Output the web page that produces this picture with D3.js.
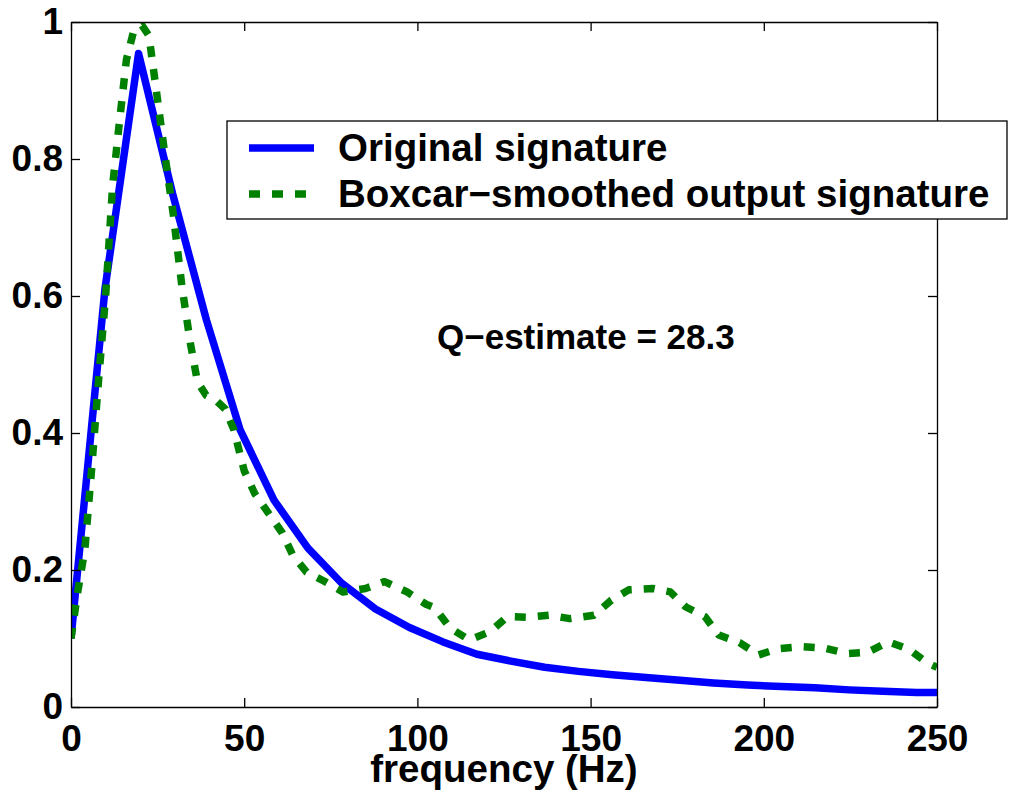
<!DOCTYPE html>
<html lang="en">
<head>
    <meta charset="UTF-8">
    <title>Q-estimate signature</title>
    <script src="https://d3js.org/d3.v7.min.js"></script>
    <style>
        body {
            margin: 0;
            padding: 0;
            background: #fff;
        }
        svg {
            font-family: "Liberation Sans", Arial, Helvetica, sans-serif;
            font-weight: bold;
        }
        .axis path, .axis line {
            stroke: #000;
            stroke-width: 1.3;
        }
        .axis text {
            font-size: 37px;
            font-weight: bold;
            fill: #000;
        }
    </style>
</head>
<body>
    <svg width="1010" height="798"></svg>

    <script>
        // original signature (coarse spectrum samples)
        const freqOrig = [0, 9.8, 19.5, 29.3, 39.1, 48.8, 58.6, 68.4, 78.1, 87.9, 97.7, 107.4,
            117.2, 127.0, 136.7, 146.5, 156.3, 166.0, 175.8, 185.5, 195.3, 205.1, 214.8,
            224.6, 234.4, 244.1, 253.9];
        const valOrig = [0.10, 0.61, 0.954, 0.75, 0.565, 0.405, 0.302, 0.232, 0.181, 0.143, 0.116, 0.095,
            0.077, 0.067, 0.058, 0.052, 0.047, 0.043, 0.039, 0.035, 0.032, 0.030, 0.028,
            0.025, 0.023, 0.021, 0.021];

        // boxcar-smoothed output signature
        const freqSmooth = [0, 2, 4, 6, 8, 10, 12, 14, 16, 18, 20.5, 22.5, 24.5, 27, 29.5, 32,
            34.5, 36.5, 39, 42, 44.5, 47, 50, 53, 57, 61, 64, 68, 73, 78.5, 85, 90.5, 97,
            102.5, 105, 109.5, 115, 121, 126, 132, 138, 144, 151, 156, 161, 168, 173,
            177.5, 183, 187, 193, 198.5, 204, 211, 217.5, 224, 230, 236, 242, 247, 250];
        const valSmooth = [0.10, 0.17, 0.23, 0.35, 0.48, 0.60, 0.76, 0.855, 0.945, 0.985, 0.995, 0.98,
            0.905, 0.81, 0.72, 0.615, 0.53, 0.475, 0.455, 0.447, 0.435, 0.405, 0.345, 0.312,
            0.283, 0.254, 0.222, 0.197, 0.184, 0.168, 0.173, 0.183, 0.168, 0.15, 0.145,
            0.115, 0.098, 0.11, 0.132, 0.131, 0.134, 0.129, 0.134, 0.156, 0.171, 0.173,
            0.168, 0.146, 0.132, 0.105, 0.094, 0.076, 0.085, 0.088, 0.086, 0.078, 0.080,
            0.095, 0.084, 0.065, 0.058];

        const xTicks = [0, 50, 100, 150, 200, 250];
        const yTicks = [0, 0.2, 0.4, 0.6, 0.8, 1];
        const yTickLabels = ["0", "0.2", "0.4", "0.6", "0.8", "1"];
        const seriesNames = ["Original signature", "Boxcar\u2212smoothed output signature"];
        const annotation = "Q\u2212estimate = 28.3";

        const plot = { left: 71, right: 937, top: 22, bottom: 707 };

        const svg = d3.select("svg");
        svg.append("rect").attr("width", 1010).attr("height", 798).attr("fill", "#fff");

        const x = d3.scaleLinear().domain([0, 250]).range([plot.left, plot.right]);
        const y = d3.scaleLinear().domain([0, 1]).range([plot.bottom, plot.top]);

        svg.append("defs").append("clipPath").attr("id", "clip")
            .append("rect")
            .attr("x", plot.left).attr("y", plot.top)
            .attr("width", plot.right - plot.left)
            .attr("height", plot.bottom - plot.top);

        const line = d3.line()
            .x(d => x(d[0]))
            .y(d => y(d[1]));

        const lines = svg.append("g").attr("clip-path", "url(#clip)");

        lines.append("path")
            .datum(d3.zip(freqOrig, valOrig))
            .attr("d", line)
            .attr("fill", "none")
            .attr("stroke", "#0000ff")
            .attr("stroke-width", 7.5)
            .attr("stroke-linejoin", "round");

        lines.append("path")
            .datum(d3.zip(freqSmooth, valSmooth))
            .attr("d", line)
            .attr("fill", "none")
            .attr("stroke", "#008000")
            .attr("stroke-width", 7.5)
            .attr("stroke-dasharray", "11,12")
            .attr("stroke-linejoin", "round");

        // axes, ticks pointing inwards on all four sides
        svg.append("g")
            .attr("class", "axis")
            .attr("transform", `translate(0,${plot.bottom})`)
            .call(d3.axisBottom(x).tickValues(xTicks).tickSizeInner(-9).tickSizeOuter(0).tickPadding(18));

        svg.append("g")
            .attr("class", "axis")
            .attr("transform", `translate(0,${plot.top})`)
            .call(d3.axisTop(x).tickValues(xTicks).tickSizeInner(-9).tickSizeOuter(0).tickFormat(""));

        svg.append("g")
            .attr("class", "axis")
            .attr("transform", `translate(${plot.left},0)`)
            .call(d3.axisLeft(y).tickValues(yTicks).tickSizeInner(-9).tickSizeOuter(0).tickPadding(8)
                .tickFormat((d, i) => yTickLabels[i]));

        svg.append("g")
            .attr("class", "axis")
            .attr("transform", `translate(${plot.right},0)`)
            .call(d3.axisRight(y).tickValues(yTicks).tickSizeInner(-9).tickSizeOuter(0).tickFormat(""));

        svg.append("text")
            .attr("x", (plot.left + plot.right) / 2)
            .attr("y", 782)
            .attr("text-anchor", "middle")
            .attr("font-size", 38.5)
            .text("frequency (Hz)");

        svg.append("text")
            .attr("x", 437)
            .attr("y", 349)
            .attr("font-size", 35)
            .text(annotation);

        // legend
        const legend = svg.append("g");
        legend.append("rect")
            .attr("x", 227).attr("y", 121)
            .attr("width", 780).attr("height", 98)
            .attr("fill", "#fff")
            .attr("stroke", "#000")
            .attr("stroke-width", 1.3);

        const legendRows = [
            { name: seriesNames[0], color: "#0000ff", dash: null, y: 148 },
            { name: seriesNames[1], color: "#008000", dash: "11,12", y: 194 }
        ];
        legendRows.forEach(r => {
            legend.append("line")
                .attr("x1", 249).attr("x2", 314)
                .attr("y1", r.y).attr("y2", r.y)
                .attr("stroke", r.color)
                .attr("stroke-width", 7.5)
                .attr("stroke-dasharray", r.dash);
            legend.append("text")
                .attr("x", 338)
                .attr("y", r.y + 13)
                .attr("font-size", 38.5)
                .text(r.name);
        });
    </script>
</body>
</html>
